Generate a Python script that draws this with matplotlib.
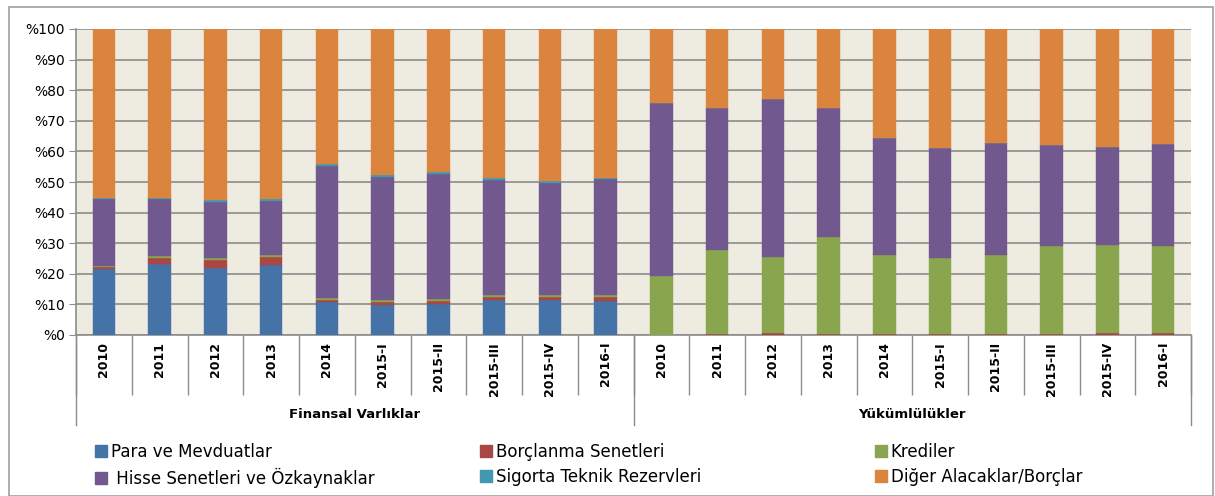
import matplotlib
matplotlib.use("Agg")
import matplotlib.pyplot as plt
import matplotlib.transforms as mtransforms
from matplotlib.patches import Rectangle, Patch
from matplotlib.lines import Line2D
import numpy as np

periods = ["2010", "2011", "2012", "2013", "2014", "2015-I", "2015-II", "2015-III", "2015-IV", "2016-I"]
groups = ["Finansal Varlıklar", "Yükümlülükler"]
categories = periods + periods

series_names = ["Para ve Mevduatlar", "Borçlanma Senetleri", "Krediler",
                " Hisse Senetleri ve Özkaynaklar", "Sigorta Teknik Rezervleri",
                "Diğer Alacaklar/Borçlar"]

# Finansal Varlıklar (assets) then Yükümlülükler (liabilities)
para = [21.7, 23.3, 21.9, 22.9, 10.7, 9.8, 10.2, 11.5, 11.5, 11.1,
        0, 0, 0, 0, 0, 0, 0, 0, 0, 0]
borclanma = [0.5, 1.9, 2.7, 2.6, 0.7, 0.9, 0.9, 0.9, 0.9, 1.3,
             0.1, 0.2, 0.5, 0.4, 0.4, 0.4, 0.4, 0.4, 0.6, 0.8]
krediler = [0.3, 0.6, 0.7, 0.6, 0.6, 0.6, 0.6, 0.7, 0.7, 0.6,
            19.2, 27.6, 25.0, 31.6, 25.7, 24.9, 25.7, 28.7, 28.8, 28.4]
hisse = [21.9, 18.6, 18.3, 17.8, 43.3, 40.4, 41.0, 37.7, 36.7, 37.9,
         56.5, 46.5, 51.5, 42.3, 38.4, 35.9, 36.8, 33.0, 32.1, 33.2]
sigorta = [0.5, 0.5, 0.5, 0.5, 0.5, 0.5, 0.5, 0.4, 0.4, 0.5,
           0, 0, 0, 0, 0, 0, 0, 0, 0, 0]
diger = [55.1, 55.1, 55.9, 55.6, 44.2, 47.8, 46.8, 48.8, 49.8, 48.6,
         24.2, 25.7, 23.0, 25.7, 35.5, 38.8, 37.1, 37.9, 38.5, 37.6]

colors = ["#4572A7", "#AA4643", "#89A54E", "#71588F", "#4198AF", "#DB843D"]
series = [para, borclanma, krediler, hisse, sigorta, diger]

plt.rcParams['font.family'] = ['Lato', 'DejaVu Sans']
wide = ['DejaVu Sans']

W, H = 1215, 496
fig = plt.figure(figsize=(W / 100, H / 100), dpi=100)
ax = fig.add_axes([76 / W, 1 - 335 / H, (1191 - 76) / W, (335 - 29) / H])
ax.set_facecolor("#EEEBE0")

x = np.arange(len(categories))
bottom = np.zeros(len(categories))
for vals, col, name in zip(series, colors, series_names):
    v = np.array(vals, dtype=float)
    ax.bar(x, v, width=0.4, bottom=bottom, color=col, edgecolor=col, linewidth=0.3,
           label=name, zorder=3)
    bottom += v

ax.set_xlim(-0.5, len(categories) - 0.5)
ax.set_ylim(0, 100)
yt = np.arange(0, 101, 10)
ax.set_yticks(yt)
ax.set_yticklabels([f"%{v}" for v in yt], fontsize=10, family=wide)
ax.yaxis.grid(True, color="#8C8C8C", linewidth=1.2, zorder=0)
ax.set_axisbelow(True)
for s in ["top", "right"]:
    ax.spines[s].set_visible(False)
ax.spines["left"].set_color("#8C8C8C")
ax.spines["bottom"].set_color("#8C8C8C")
ax.spines["left"].set_linewidth(1.2)
ax.spines["bottom"].set_linewidth(1.2)
ax.tick_params(axis="y", length=5, color="#8C8C8C", pad=3)

ax.set_xticks(x)
ax.set_xticklabels(categories, rotation=90, fontsize=9, fontweight="bold", family=wide)
ax.tick_params(axis="x", which="major", length=0, pad=5)
ax.set_xticks(np.arange(-0.5, len(categories), 1.0), minor=True)
ax.tick_params(axis="x", which="minor", length=43, color="#8C8C8C", width=1.0)

trans = mtransforms.blended_transform_factory(ax.transData, fig.transFigure)
for b in [-0.5, 9.5, 19.5]:
    ax.add_line(Line2D([b, b], [1 - 335 / H, 1 - 425 / H], transform=trans,
                       color="#8C8C8C", linewidth=1.0, clip_on=False))
for gi, g in enumerate(groups):
    cx = gi * 10 + 4.5
    ax.text(cx, 1 - 415 / H, g, transform=trans, ha="center", va="center",
            fontsize=9.5, fontweight="bold", family=wide)

# outer chart frame
fig.patches.append(Rectangle((9 / W, 0), (1213 - 9) / W, 1 - 7 / H, transform=fig.transFigure,
                             fill=False, edgecolor="#A0A0A0", linewidth=1.2))

handles = [Patch(facecolor=c, edgecolor=c) for c in colors]
col_x = [95, 480, 875]
for ci in range(3):
    hs = [handles[ci], handles[ci + 3]]
    ls = [series_names[ci], series_names[ci + 3]]
    fig.legend(hs, ls, loc="upper left", bbox_to_anchor=(col_x[ci] / W, 1 - 443 / H),
               frameon=False, prop={'family': wide, 'size': 12},
               handlelength=0.7, handleheight=0.7,
               handletextpad=0.25, labelspacing=0.4, borderpad=0, borderaxespad=0)

fig.savefig("out.png", dpi=100)
